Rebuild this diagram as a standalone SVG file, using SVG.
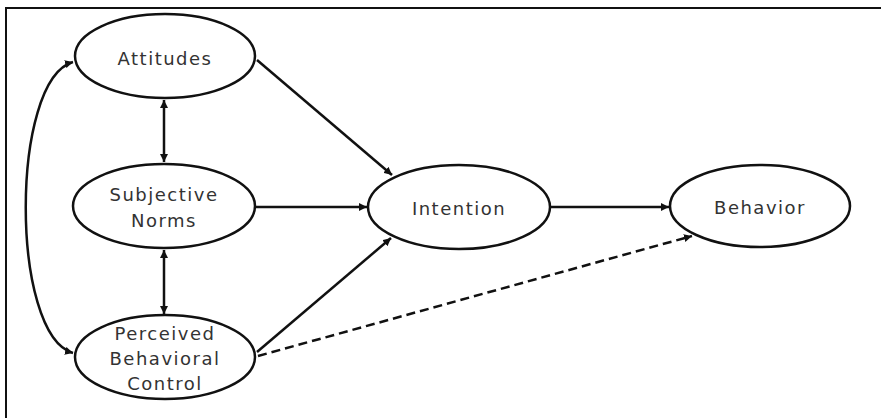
<svg xmlns="http://www.w3.org/2000/svg" width="881" height="418" viewBox="0 0 881 418">
<style>
.node ellipse{fill:#fff;stroke:#111;stroke-width:2.5}
.node text{font-family:"DejaVu Sans",sans-serif;font-size:18px;fill:#333;text-anchor:middle;dominant-baseline:central;letter-spacing:1.5px}
.edge{stroke:#111;stroke-width:2.5;fill:none}
.dash{stroke-dasharray:9 5}
</style>
<defs>
<marker id="ah" viewBox="0 0 10 10" refX="10" refY="5" markerWidth="3.2" markerHeight="3.2" orient="auto-start-reverse" markerUnits="strokeWidth">
<path d="M0,0 L10,5 L0,10 z" fill="#111"/>
</marker>
</defs>
<rect width="881" height="418" fill="#fff"/>
<path d="M6,418 L6,8 L881,8" fill="none" stroke="#111" stroke-width="2"/>
<g id="connectors">
<line class="edge" x1="164" y1="100" x2="164" y2="162" marker-start="url(#ah)" marker-end="url(#ah)"/>
<line class="edge" x1="164" y1="250" x2="164" y2="314" marker-start="url(#ah)" marker-end="url(#ah)"/>
<line class="edge" x1="257" y1="60" x2="392" y2="175" marker-end="url(#ah)"/>
<line class="edge" x1="255" y1="207" x2="367" y2="207" marker-end="url(#ah)"/>
<line class="edge" x1="257" y1="352" x2="391" y2="238" marker-end="url(#ah)"/>
<line class="edge" x1="550" y1="207" x2="669" y2="207" marker-end="url(#ah)"/>
<line class="edge dash" x1="258" y1="356" x2="692" y2="236" marker-end="url(#ah)"/>
<path class="edge" d="M73,62 C10,80 10,335 73,353" marker-start="url(#ah)" marker-end="url(#ah)"/>
</g>
<g id="attitudes" class="node">
<ellipse cx="165" cy="56" rx="90" ry="42"/>
<text x="165" y="58">Attitudes</text>
</g>
<g id="subjective-norms" class="node">
<ellipse cx="164" cy="206" rx="91" ry="42"/>
<text x="164" y="194">Subjective</text>
<text x="164" y="220">Norms</text>
</g>
<g id="pbc" class="node">
<ellipse cx="165" cy="357" rx="90" ry="42"/>
<text x="165" y="333">Perceived</text>
<text x="165" y="358">Behavioral</text>
<text x="165" y="383">Control</text>
</g>
<g id="intention" class="node">
<ellipse cx="459" cy="207" rx="91" ry="42"/>
<text x="459" y="208">Intention</text>
</g>
<g id="behavior" class="node">
<ellipse cx="760" cy="206" rx="90" ry="41"/>
<text x="760" y="207">Behavior</text>
</g>
</svg>
